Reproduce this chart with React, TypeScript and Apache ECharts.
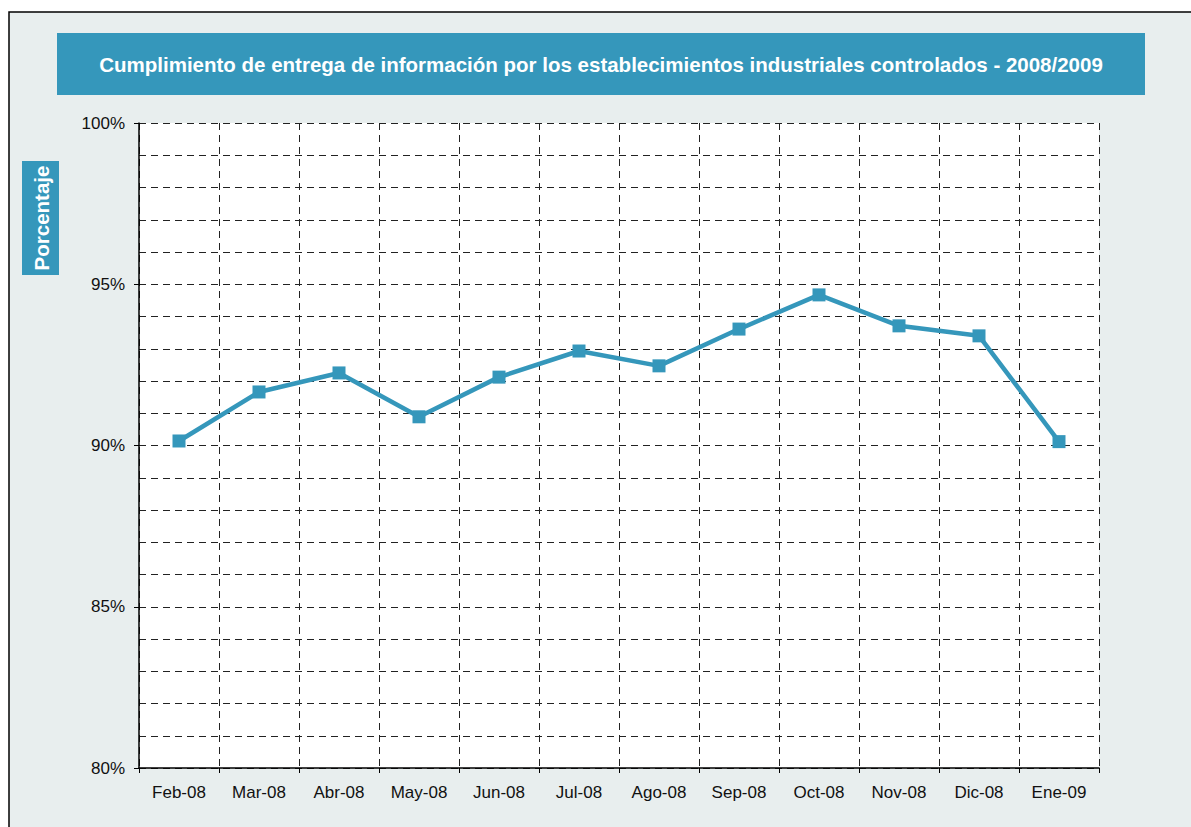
import React, { useEffect, useRef } from "react";
import * as echarts from "echarts";

const categories = ["Feb-08", "Mar-08", "Abr-08", "May-08", "Jun-08", "Jul-08", "Ago-08", "Sep-08", "Oct-08", "Nov-08", "Dic-08", "Ene-09"];
const values = [90.14, 91.66, 92.25, 90.89, 92.12, 92.93, 92.47, 93.61, 94.67, 93.71, 93.4, 90.12];
const title = "Cumplimiento de entrega de información por los establecimientos industriales controlados - 2008/2009";
const yTitle = "Porcentaje";

const TEAL = "#3597bb";
const FONT = "'Liberation Sans', Arial, sans-serif";

export default function App() {
  const ref = useRef<HTMLDivElement>(null);
  useEffect(() => {
    document.body.style.margin = "0";
    const chart = echarts.init(ref.current!, null, { renderer: "svg" });
    chart.setOption({
      animation: false,
      backgroundColor: "#ffffff",
      graphic: [
        {
          type: "rect",
          z: -10,
          silent: true,
          shape: { x: 9, y: 12, width: 1200, height: 830 },
          style: { fill: "#e8eeee", stroke: "#000", lineWidth: 1.5 },
        },
        {
          type: "rect",
          z: -5,
          shape: { x: 57, y: 33, width: 1088, height: 62 },
          style: { fill: TEAL },
        },
        {
          type: "text",
          x: 601,
          y: 64,
          style: {
            text: title,
            fill: "#fff",
            font: `bold 20.5px ${FONT}`,
            align: "center",
            verticalAlign: "middle",
          },
        },
        {
          type: "rect",
          z: -5,
          shape: { x: 22, y: 161, width: 37, height: 114 },
          style: { fill: TEAL },
        },
        {
          type: "text",
          x: 41,
          y: 218,
          rotation: Math.PI / 2,
          style: {
            text: yTitle,
            fill: "#fff",
            font: `bold 20.5px ${FONT}`,
            align: "center",
            verticalAlign: "middle",
          },
        },
      ],
      grid: { left: 139, top: 123, right: 92, bottom: 59, containLabel: false, show: true, backgroundColor: "#fff", borderWidth: 0 },
      xAxis: {
        type: "category",
        data: categories,
        boundaryGap: true,
        axisLine: { show: true, lineStyle: { color: "#000", width: 1.5 } },
        axisTick: { show: true, length: 5, inside: false, lineStyle: { color: "#000" } },
        axisLabel: { color: "#111", fontSize: 17, fontFamily: FONT, margin: 16, interval: 0 },
        splitLine: { show: true, lineStyle: { color: "#222", type: [7, 5], width: 1 } },
      },
      yAxis: {
        type: "value",
        min: 80,
        max: 100,
        interval: 5,
        axisLine: { show: true, lineStyle: { color: "#000", width: 1.5 } },
        axisTick: { show: true, length: 5, lineStyle: { color: "#000" } },
        axisLabel: { color: "#111", fontSize: 17, fontFamily: FONT, margin: 14, formatter: (v: number) => `${v}%` },
        splitLine: { show: true, lineStyle: { color: "#222", type: [7, 5], width: 1 } },
        minorTick: { show: false, splitNumber: 5 },
        minorSplitLine: { show: true, lineStyle: { color: "#222", type: [7, 5], width: 1 } },
      },
      series: [
        {
          type: "line",
          data: values,
          symbol: "rect",
          symbolSize: 13,
          lineStyle: { color: TEAL, width: 4.5 },
          itemStyle: { color: TEAL },
        },
      ],
    });
    return () => chart.dispose();
  }, []);
  return <div ref={ref} style={{ width: 1191, height: 827 }} />;
}
